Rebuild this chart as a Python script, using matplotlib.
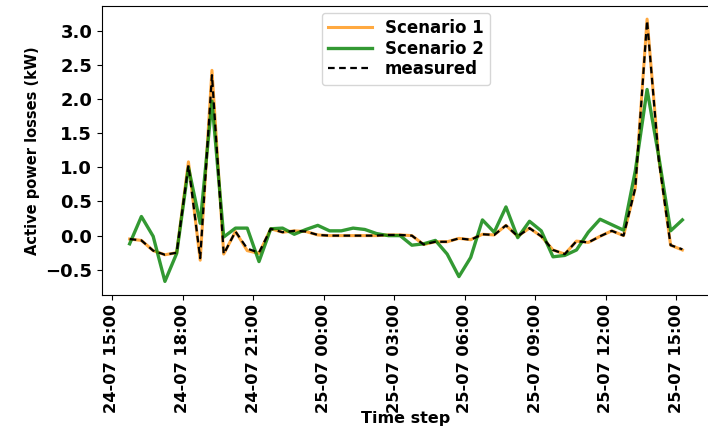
import numpy as np
import pandas as pd
import matplotlib
matplotlib.use("Agg")
import matplotlib.pyplot as plt
import matplotlib.dates as mdates

# time axis: half-hour steps
time = pd.date_range("2023-07-24 15:45", periods=48, freq="30min")

measured = [-0.05, -0.07, -0.22, -0.28, -0.25, 1.03, -0.33, 2.35, -0.27, 0.06,
            -0.19, -0.25, 0.10, 0.05, 0.07, 0.06, 0.01, 0.00, 0.00, 0.00,
            0.00, 0.00, 0.01, 0.01, 0.00, -0.13, -0.09, -0.09, -0.04, -0.06,
            0.02, 0.01, 0.15, -0.01, 0.11, -0.01, -0.21, -0.27, -0.08, -0.10,
            -0.01, 0.07, 0.00, 0.70, 3.15, 1.10, -0.14, -0.20]

scenario_1 = [-0.05, -0.07, -0.22, -0.28, -0.25, 1.08, -0.36, 2.42, -0.27, 0.06,
              -0.22, -0.26, 0.10, 0.05, 0.07, 0.06, 0.01, 0.00, 0.00, 0.00,
              0.00, 0.00, 0.01, 0.01, 0.00, -0.13, -0.09, -0.09, -0.04, -0.06,
              0.02, 0.01, 0.15, -0.01, 0.11, -0.01, -0.21, -0.27, -0.08, -0.10,
              -0.01, 0.07, 0.00, 0.70, 3.17, 1.12, -0.14, -0.21]

scenario_2 = [-0.12, 0.28, -0.01, -0.67, -0.26, 1.00, 0.18, 1.97, -0.02, 0.11,
              0.11, -0.38, 0.10, 0.11, 0.02, 0.09, 0.15, 0.07, 0.07, 0.11,
              0.09, 0.03, 0.00, 0.00, -0.14, -0.12, -0.07, -0.27, -0.60, -0.32,
              0.23, 0.05, 0.42, -0.03, 0.21, 0.07, -0.31, -0.29, -0.21, 0.05,
              0.24, 0.16, 0.08, 0.95, 2.14, 1.15, 0.07, 0.23]

fig = plt.figure(figsize=(7.08, 4.32), dpi=100)
ax = fig.add_axes([102 / 708, 1 - 294.5 / 432, 608 / 708, 288.5 / 432])

ax.plot(time, scenario_1, color="darkorange", alpha=0.75, lw=2.2, label="Scenario 1")
ax.plot(time, scenario_2, color="green", alpha=0.8, lw=2.4, label="Scenario 2")
ax.plot(time, measured, "k--", lw=1.6, dashes=(3, 2), label="measured")

ax.xaxis.set_major_locator(mdates.HourLocator(byhour=range(0, 24, 3)))
ax.xaxis.set_major_formatter(mdates.DateFormatter("%d-%m %H:%M"))
ax.set_yticks([-0.5, 0.0, 0.5, 1.0, 1.5, 2.0, 2.5, 3.0])

plt.xticks(rotation=90, fontsize=11.7, fontweight="bold")
plt.yticks(fontsize=13, fontweight="bold")
ax.set_xlabel("Time step", fontsize=11.5, fontweight="bold", labelpad=-2)
ax.set_ylabel("Active power losses (kW)", fontsize=10.5, fontweight="bold")

ax.legend(loc="upper center", prop={"weight": "bold", "size": 12},
          labelspacing=0.15, handlelength=2.6, borderaxespad=0.4)

fig.savefig("out.png", dpi=100)
